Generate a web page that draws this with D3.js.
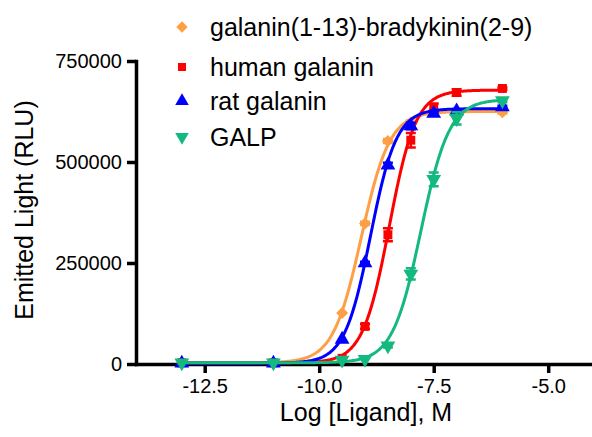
<!DOCTYPE html>
<html>
<head>
<meta charset="utf-8">
<script src="https://cdn.jsdelivr.net/npm/d3@7/dist/d3.min.js"></script>
<style>
    body { margin: 0; background: #fff; }
    text { font-family: "Liberation Sans", Arial, sans-serif; fill: #000; }
    .axis path, .axis line { stroke: #000; stroke-width: 3.5; }
    .axis text { font-size: 20px; }
</style>
</head>
<body>
<svg id="plot"></svg>
<script>
'use strict';

const plotWidth = 592;
const plotHeight = 437;

// log molar doses shared by all four series
const logDoses = [-13, -11, -9.5, -9, -8.5, -8, -7.5, -7, -6];

const galBkMeans = [4000, 4000, 126000, 348000, 552000, 598000, 625000, 626000, 623000];
const galBkErrors = [0, 0, 0, 4000, 5000, 5000, 4000, 3000, 3000];
const humanGalMeans = [3000, 3000, 14000, 93000, 320000, 554000, 635000, 672000, 682000];
const humanGalErrors = [0, 0, 0, 6000, 16000, 18000, 10000, 8000, 3000];
const ratGalMeans = [2000, 2000, 61000, 250000, 492000, 589000, 620000, 626000, 636000];
const ratGalErrors = [0, 0, 0, 3000, 6000, 8000, 4000, 4000, 3000];
const galpMeans = [3000, 3000, 10000, 12000, 45000, 223000, 457000, 608000, 652000];
const galpErrors = [0, 0, 0, 0, 4000, 14000, 17000, 15000, 4000];

// fitted sigmoid parameters: [bottom, top, logEC50, hill]
const galBkFit = [3000, 625000, -9.08, 1.4];
const humanGalFit = [3000, 678000, -8.47, 1.5];
const ratGalFit = [2000, 632000, -8.88, 1.53];
const galpFit = [3000, 655000, -7.78, 1.4];

const seriesNames = ['galanin(1-13)-bradykinin(2-9)', 'human galanin', 'rat galanin', 'GALP'];
const seriesColors = ['#FF9F45', '#FF0000', '#0000FF', '#13B97E'];

const xTicks = [-12.5, -10, -7.5, -5];
const yTicks = [0, 250000, 500000, 750000];

const series = [
    {name: seriesNames[0], color: seriesColors[0], means: galBkMeans, errors: galBkErrors, fit: galBkFit, shape: 'diamond'},
    {name: seriesNames[1], color: seriesColors[1], means: humanGalMeans, errors: humanGalErrors, fit: humanGalFit, shape: 'square'},
    {name: seriesNames[2], color: seriesColors[2], means: ratGalMeans, errors: ratGalErrors, fit: ratGalFit, shape: 'up'},
    {name: seriesNames[3], color: seriesColors[3], means: galpMeans, errors: galpErrors, fit: galpFit, shape: 'down'}
];

const xScale = d3.scaleLinear().domain([-14, -4]).range([136, 594]);
const yScale = d3.scaleLinear().domain([0, 750000]).range([364, 61]);

const svg = d3.select('#plot')
    .attr('width', plotWidth)
    .attr('height', plotHeight);

function symbolPath(shape, size) {
    if (shape === 'diamond') return {d: d3.symbol(d3.symbolSquare, size)(), rotate: 45};
    if (shape === 'square') return {d: d3.symbol(d3.symbolSquare, size)(), rotate: 0};
    if (shape === 'up') return {d: d3.symbol(d3.symbolTriangle, size)(), rotate: 0};
    return {d: d3.symbol(d3.symbolTriangle, size)(), rotate: 180};
}

function logistic(fit, x) {
    const [bottom, top, logEC50, hill] = fit;
    return bottom + (top - bottom) / (1 + Math.pow(10, (logEC50 - x) * hill));
}

function renderAxes() {
    svg.append('g')
        .attr('class', 'axis')
        .attr('transform', `translate(0, ${yScale(0)})`)
        .call(d3.axisBottom(xScale)
            .tickValues(xTicks)
            .tickFormat(d => d.toFixed(1))
            .tickSize(9)
            .tickSizeOuter(0)
            .tickPadding(6));

    svg.append('g')
        .attr('class', 'axis')
        .attr('transform', `translate(${xScale(-14)}, 0)`)
        .call(d3.axisLeft(yScale)
            .tickValues(yTicks)
            .tickFormat(d => d)
            .tickSize(9)
            .tickSizeOuter(0)
            .tickPadding(5));

    svg.selectAll('.axis path').attr('stroke-linecap', 'square');

    svg.append('text')
        .attr('x', 366)
        .attr('y', 421)
        .attr('text-anchor', 'middle')
        .style('font-size', '25px')
        .text('Log [Ligand], M');

    svg.append('text')
        .attr('transform', 'translate(33, 210) rotate(-90)')
        .attr('text-anchor', 'middle')
        .style('font-size', '25px')
        .text('Emitted Light (RLU)');
}

function renderSeries() {
    const curveX = d3.range(-13, -5.99, 0.02);
    const line = d3.line()
        .x(d => xScale(d))
        .curve(d3.curveLinear);

    series.forEach(s => {
        const g = svg.append('g');

        g.append('path')
            .attr('d', line.y(d => yScale(logistic(s.fit, d)))(curveX))
            .attr('fill', 'none')
            .attr('stroke', s.color)
            .attr('stroke-width', 3);

        const pts = logDoses.map((x, i) => ({x, y: s.means[i], e: s.errors[i]}));

        g.selectAll('.err')
            .data(pts.filter(p => p.e > 0))
            .enter()
            .append('path')
            .attr('d', p => {
                const cx = xScale(p.x);
                const y1 = yScale(p.y + p.e);
                const y2 = yScale(p.y - p.e);
                return `M${cx},${y1}V${y2}M${cx - 5},${y1}H${cx + 5}M${cx - 5},${y2}H${cx + 5}`;
            })
            .attr('fill', 'none')
            .attr('stroke', s.color)
            .attr('stroke-width', 2.5);

        const sym = symbolPath(s.shape, s.shape === 'square' ? 80 : s.shape === 'diamond' ? 72 : 95);
        g.selectAll('.pt')
            .data(pts)
            .enter()
            .append('path')
            .attr('d', sym.d)
            .attr('transform', p => `translate(${xScale(p.x)}, ${yScale(p.y)}) rotate(${sym.rotate})`)
            .attr('fill', s.color);
    });
}

function renderLegend() {
    const rows = [27, 67, 101, 137];

    series.forEach((s, i) => {
        const sym = symbolPath(s.shape, s.shape === 'square' ? 64 : s.shape === 'diamond' ? 64 : 80);
        svg.append('path')
            .attr('d', sym.d)
            .attr('transform', `translate(182, ${rows[i]}) rotate(${sym.rotate})`)
            .attr('fill', s.color);
        svg.append('text')
            .attr('x', 210)
            .attr('y', rows[i] + 9)
            .style('font-size', '25px')
            .text(s.name);
    });
}

renderAxes();
renderSeries();
renderLegend();
</script>
</body>
</html>
